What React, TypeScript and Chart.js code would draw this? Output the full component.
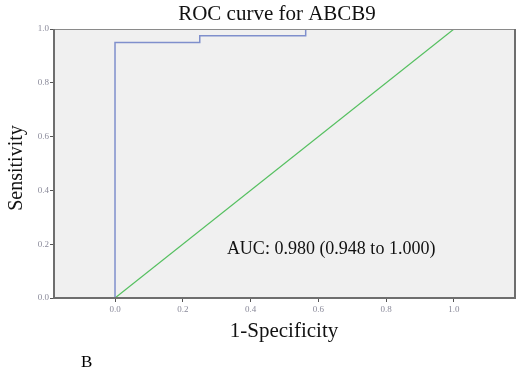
import React, { useEffect, useRef } from "react";
import { Chart, registerables } from "chart.js";

Chart.register(...registerables);

const rocX = [0, 0, 0.25, 0.25, 0.5625, 0.5625, 1];
const rocY = [0, 0.95, 0.95, 0.975, 0.975, 1, 1];
const refX = [0, 1];
const refY = [0, 1];
const xTicks = [0, 0.2, 0.4, 0.6, 0.8, 1.0];
const yTicks = [0, 0.2, 0.4, 0.6, 0.8, 1.0];
const titleText = "ROC curve for ABCB9";
const xTitle = "1-Specificity";
const yTitle = "Sensitivity";
const aucText = "AUC: 0.980 (0.948 to 1.000)";
const panelLabel = "B";

const W = 532;
const H = 378;
const SERIF = "'Liberation Serif', 'Times New Roman', serif";

const framePlugin = {
  id: "frame",
  beforeDatasetsDraw(chart: any) {
    const { ctx, chartArea: a } = chart;
    ctx.save();
    ctx.fillStyle = "#f0f0f0";
    ctx.fillRect(a.left, a.top, a.right - a.left, a.bottom - a.top);
    ctx.restore();
  },
  afterDatasetsDraw(chart: any) {
    const { ctx, chartArea: a, scales } = chart;
    ctx.save();
    // top border
    ctx.strokeStyle = "#8a8a8a";
    ctx.lineWidth = 1;
    ctx.beginPath();
    ctx.moveTo(a.left, a.top + 0.5);
    ctx.lineTo(a.right, a.top + 0.5);
    ctx.stroke();
    // right border
    ctx.strokeStyle = "#6e6e6e";
    ctx.lineWidth = 2;
    ctx.beginPath();
    ctx.moveTo(a.right, a.top);
    ctx.lineTo(a.right, a.bottom + 1);
    ctx.stroke();
    // bottom & left axes
    ctx.strokeStyle = "#6e6e6e";
    ctx.beginPath();
    ctx.moveTo(a.left - 1, a.bottom);
    ctx.lineTo(a.right + 1, a.bottom);
    ctx.stroke();
    ctx.beginPath();
    ctx.moveTo(a.left, a.top);
    ctx.lineTo(a.left, a.bottom + 1);
    ctx.stroke();

    // texts
    ctx.fillStyle = "#111";
    ctx.textAlign = "center";
    ctx.textBaseline = "middle";
    ctx.font = `21px ${SERIF}`;
    ctx.fillText(titleText, 277, 14);
    ctx.font = `21px ${SERIF}`;
    ctx.fillText(xTitle, 284, 331);
    ctx.save();
    ctx.translate(17, 168);
    ctx.rotate(-Math.PI / 2);
    ctx.font = `20px ${SERIF}`;
    ctx.fillText(yTitle, 0, 0);
    ctx.restore();
    ctx.font = `18px ${SERIF}`;
    ctx.textAlign = "left";
    const ax = scales.x.getPixelForValue(0.33);
    const ay = scales.y.getPixelForValue(0.18);
    ctx.fillText(aucText, ax, ay);
    ctx.fillStyle = "#000";
    ctx.font = `17px ${SERIF}`;
    ctx.fillText(panelLabel, 81, 363);
    ctx.restore();
  },
};

export default function App() {
  const ref = useRef<HTMLCanvasElement>(null);
  useEffect(() => {
    document.body.style.margin = "0";
    const chart = new Chart(ref.current!, {
      type: "scatter",
      data: {
        datasets: [
          {
            label: "ROC",
            data: rocX.map((x, i) => ({ x, y: rocY[i] })),
            showLine: true,
            borderColor: "#7f8fcc",
            borderWidth: 1.5,
            pointRadius: 0,
            fill: false,
          },
          {
            label: "Reference",
            data: refX.map((x, i) => ({ x, y: refY[i] })),
            showLine: true,
            borderColor: "#55c060",
            borderWidth: 1.2,
            pointRadius: 0,
            fill: false,
          },
        ],
      },
      options: {
        responsive: false,
        animation: false,
        layout: { padding: { top: 29, right: 17, left: 0, bottom: 0 } },
        plugins: {
          legend: { display: false },
          title: { display: false },
          tooltip: { enabled: false },
        },
        scales: {
          x: {
            type: "linear",
            min: -0.18,
            max: 1.18,
            afterBuildTicks: (s: any) => {
              s.ticks = xTicks.map((v) => ({ value: v }));
            },
            afterFit: (s: any) => {
              s.height = H - 298;
            },
            border: { display: false },
            grid: {
              drawOnChartArea: false,
              drawTicks: true,
              tickLength: 4,
              color: "#555",
            },
            ticks: {
              color: "#8a8a9a",
              font: { family: SERIF, size: 9 },
              padding: 2,
              maxRotation: 0,
              callback: (v: any) => Number(v).toFixed(1),
            },
          },
          y: {
            type: "linear",
            min: 0,
            max: 1,
            afterBuildTicks: (s: any) => {
              s.ticks = yTicks.map((v) => ({ value: v }));
            },
            afterFit: (s: any) => {
              s.width = 54;
            },
            border: { display: false },
            grid: {
              drawOnChartArea: false,
              drawTicks: true,
              tickLength: 4,
              color: "#555",
            },
            ticks: {
              color: "#8a8a9a",
              font: { family: SERIF, size: 9 },
              padding: 1,
              callback: (v: any) => Number(v).toFixed(1),
            },
          },
        },
      },
      plugins: [framePlugin],
    });
    return () => chart.destroy();
  }, []);
  return (
    <div style={{ position: "absolute", left: 0, top: 0, width: W, height: H, background: "#fff" }}>
      <canvas ref={ref} width={W} height={H} style={{ width: W, height: H, display: "block" }} />
    </div>
  );
}
